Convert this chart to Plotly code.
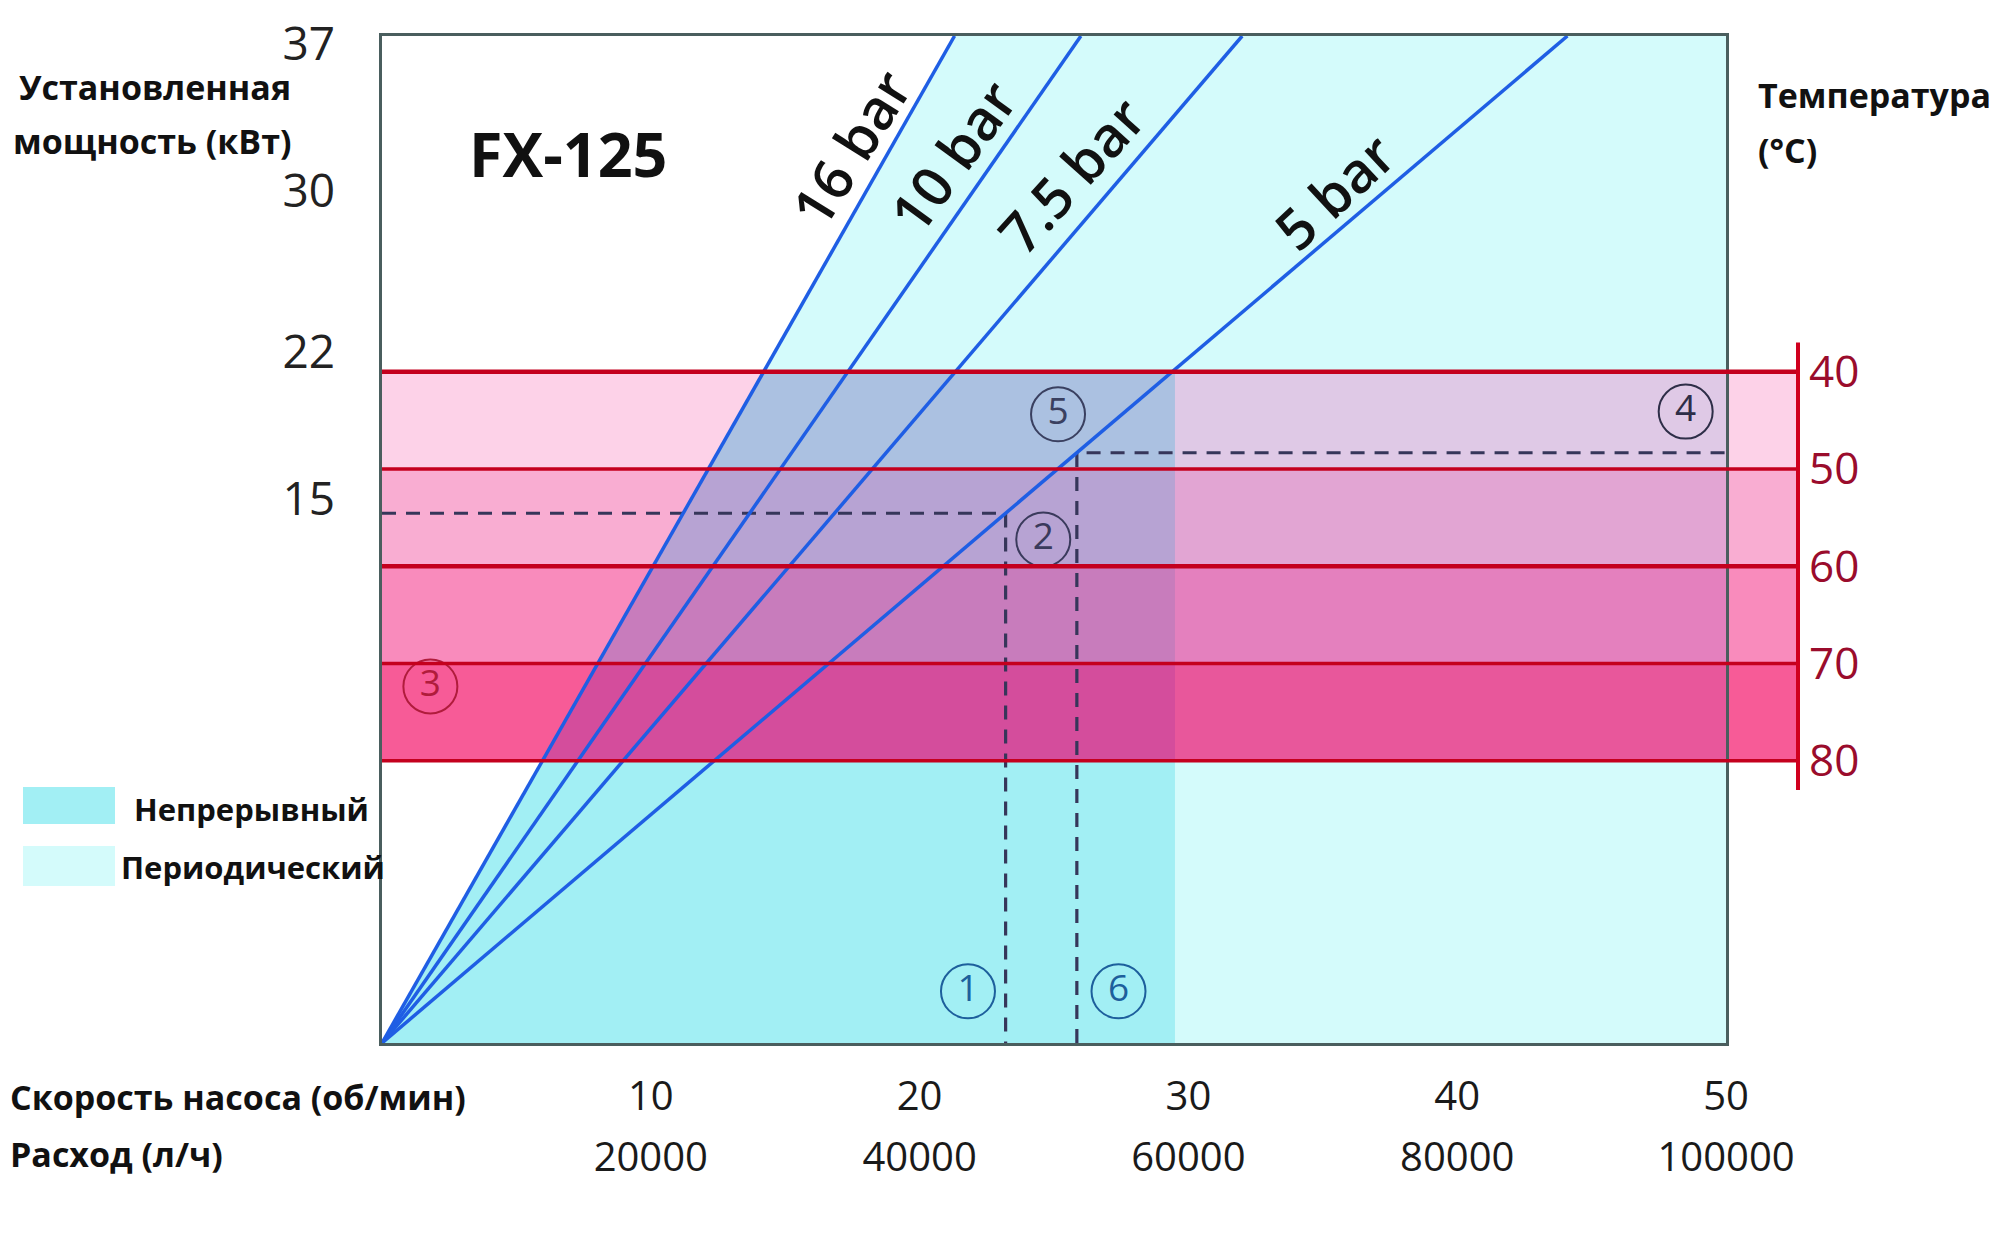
import plotly.graph_objects as go

# ---------------- data ----------------
rpm_ticks = [10, 20, 30, 40, 50]
flow_ticks = [20000, 40000, 60000, 80000, 100000]
power_tick_labels = ["37", "30", "22", "15"]
power_tick_heights = [36.7, 31.3, 25.4, 20.0]      # schematic heights on the chart
power_max = 37
rpm_max = 50
flow_max = 100000

pressure_labels = ["16 bar", "10 bar", "7.5 bar", "5 bar"]
pressure_rpm_at_max = [21.3, 26.0, 32.0, 44.1]      # rpm where each line reaches the top
pressure_label_x = [17.4, 21.2, 25.6, 35.4]
pressure_label_y = [32.9, 32.6, 31.9, 31.3]
pressure_label_angle = [-58, -54, -48, -43]

temp_levels = [40, 50, 60, 70, 80]
temp_axis_span = [37, 83]
temp_at_top, temp_at_bottom = 5.5, 109.0

continuous_rpm_limit = 29.5
example_rpm = [23.2, 25.85]

callout_text = ["1", "2", "3", "4", "5", "6"]
callout_x = [21.8, 24.6, 1.8, 48.5, 25.15, 27.4]
callout_y = [1.9, 18.5, 13.1, 23.2, 23.1, 1.9]
callout_color = ["#1d5f9c", "#3a3a5c", "#b01c3c", "#2e2e48", "#3a4060", "#1d5f9c"]

band_white = ["#fdd2e8", "#f9add2", "#f98bbc", "#f75b97"]
band_periodic = ["#dfc9e6", "#e2a5d3", "#e480be", "#e8579b"]
band_continuous = ["#abc1e1", "#b7a3d3", "#c87cbc", "#d44d9c"]

col_continuous = "#a2eff4"
col_periodic = "#d4fbfb"
col_line = "#1f5ee4"
col_red = "#c4001e"
col_dash = "#36365a"
FONT = "Open Sans"

# ---------------- layout geometry ----------------
W, H = 2000, 1236
ML, MR, MT, MB = 382, 202, 36, 116
PW, PH = W - ML - MR, H - MT - MB
x_dom_end = (1726 - ML) / PW
y_dom_start = (1120 - 1043) / PH


def px(xp):
    return (xp - ML) / PW


def py(yp):
    return (H - MB - yp) / PH


def t2y(t):
    return power_max * (temp_at_bottom - t) / (temp_at_bottom - temp_at_top)


def x16(y):
    return pressure_rpm_at_max[0] * y / power_max


def poly(points, color):
    path = "M " + " L ".join(f"{a},{b}" for a, b in points) + " Z"
    return dict(type="path", path=path, xref="x", yref="y", layer="below",
                fillcolor=color, line=dict(width=0))


def interp_5bar(r):
    return power_max * r / pressure_rpm_at_max[3]


shapes = []
# operating regions
shapes.append(poly([(0, 0), (pressure_rpm_at_max[0], power_max), (rpm_max, power_max), (rpm_max, 0)], col_periodic))
y40 = t2y(temp_levels[0])
shapes.append(poly([(0, 0), (x16(y40), y40), (continuous_rpm_limit, y40), (continuous_rpm_limit, 0)], col_continuous))

# temperature bands
for i in range(len(temp_levels) - 1):
    yt, yb = t2y(temp_levels[i]), t2y(temp_levels[i + 1])
    shapes.append(poly([(0, yb), (0, yt), (rpm_max, yt), (rpm_max, yb)], band_white[i]))
    shapes.append(poly([(x16(yb), yb), (x16(yt), yt), (rpm_max, yt), (rpm_max, yb)], band_periodic[i]))
    shapes.append(poly([(x16(yb), yb), (x16(yt), yt), (continuous_rpm_limit, yt), (continuous_rpm_limit, yb)],
                       band_continuous[i]))
    shapes.append(dict(type="rect", xref="paper", yref="y", x0=x_dom_end, x1=1.0, y0=yb, y1=yt,
                       layer="below", fillcolor=band_white[i], line=dict(width=0)))

# red temperature lines and red axis
for k, t in enumerate(temp_levels):
    shapes.append(dict(type="line", xref="paper", yref="y2", x0=0, x1=1.0, y0=t, y1=t,
                       layer="above", line=dict(color=col_red, width=4.5 if k in (0, 2) else 3.5)))
shapes.append(dict(type="line", xref="paper", yref="y2", x0=1.0, x1=1.0,
                   y0=temp_axis_span[0], y1=temp_axis_span[1], layer="above",
                   line=dict(color="#d0001e", width=4)))

# legend swatches
shapes.append(dict(type="rect", xref="paper", yref="paper", x0=px(23), x1=px(115), y0=py(824), y1=py(787),
                   fillcolor=col_continuous, line=dict(width=0)))
shapes.append(dict(type="rect", xref="paper", yref="paper", x0=px(23), x1=px(115), y0=py(886), y1=py(846),
                   fillcolor=col_periodic, line=dict(width=0)))

fig = go.Figure()

# dashed example lines
r1, r2 = example_rpm
fig.add_trace(go.Scatter(x=[0, r1, r1], y=[interp_5bar(r1), interp_5bar(r1), 0], mode="lines",
                         line=dict(color=col_dash, width=3.2, dash="14px,10px"), hoverinfo="skip", showlegend=False))
fig.add_trace(go.Scatter(x=[r2, r2, rpm_max], y=[0, interp_5bar(r2), interp_5bar(r2)], mode="lines",
                         line=dict(color=col_dash, width=3.2, dash="14px,10px"), hoverinfo="skip", showlegend=False))

# pressure lines
for name, r in zip(pressure_labels, pressure_rpm_at_max):
    fig.add_trace(go.Scatter(x=[0, r], y=[0, power_max], mode="lines", name=name,
                             line=dict(color=col_line, width=3.5), showlegend=False))

# callouts
fig.add_trace(go.Scatter(x=callout_x, y=callout_y, mode="markers+text", text=callout_text,
                         textposition="middle center",
                         textfont=dict(family=FONT, size=37, color=callout_color),
                         marker=dict(symbol="circle-open", size=54, color=callout_color, line=dict(width=2)),
                         hoverinfo="skip", showlegend=False))

# invisible traces to activate secondary axes
fig.add_trace(go.Scatter(x=[0] * len(temp_levels), y=temp_levels, yaxis="y2", mode="markers",
                         marker=dict(opacity=0), hoverinfo="skip", showlegend=False))
fig.add_trace(go.Scatter(x=flow_ticks, y=[0] * len(flow_ticks), xaxis="x2", mode="markers",
                         marker=dict(opacity=0), hoverinfo="skip", showlegend=False))

annotations = []
for lab, x, y, a in zip(pressure_labels, pressure_label_x, pressure_label_y, pressure_label_angle):
    annotations.append(dict(x=x, y=y, xref="x", yref="y", text=lab, showarrow=False, textangle=a,
                            font=dict(family=FONT, size=56, color="#111111", weight=600)))


def txt(s, xp, yp, size=34, anchor="left", color="#111111"):
    annotations.append(dict(x=px(xp), y=py(yp), xref="paper", yref="paper", text=s, showarrow=False,
                            xanchor=anchor, yanchor="middle", font=dict(family=FONT, size=size, color=color)))


txt("<b>Установленная</b>", 17, 87)
txt("<b>мощность (кВт)</b>", 11, 141)
txt("<b>FX-125</b>", 568, 153, size=61, anchor="center")
txt("<b>Температура</b>", 1756, 95)
txt("<b>(°C)</b>", 1756, 150)
txt("<b>Скорость насоса (об/мин)</b>", 8, 1097, size=34)
txt("<b>Расход (л/ч)</b>", 8, 1154, size=34)
txt("<b>Непрерывный</b>", 132, 809, size=31)
txt("<b>Периодический</b>", 119, 867, size=31)

fig.update_layout(
    width=W, height=H,
    margin=dict(l=ML, r=MR, t=MT, b=MB, pad=0),
    paper_bgcolor="white", plot_bgcolor="white",
    font=dict(family=FONT, color="#1a1a1a"),
    showlegend=False,
    shapes=shapes,
    annotations=annotations,
    xaxis=dict(domain=[0, x_dom_end], range=[0, rpm_max], anchor="y",
               tickvals=rpm_ticks, ticktext=[str(v) for v in rpm_ticks], ticks="",
               ticklabelstandoff=16, tickfont=dict(size=40, color="#1a1a1a"),
               showgrid=False, zeroline=False, showline=True, mirror=True,
               linecolor="#4a5e5e", linewidth=2.5),
    xaxis2=dict(domain=[0, x_dom_end], range=[0, flow_max], overlaying="x", anchor="free", position=0,
                side="bottom", tickvals=flow_ticks, ticktext=[str(v) for v in flow_ticks], ticks="",
                ticklabelstandoff=10, tickfont=dict(size=40, color="#1a1a1a"),
                showgrid=False, zeroline=False, showline=False),
    yaxis=dict(domain=[y_dom_start, 1], range=[0, power_max], anchor="x",
               tickvals=power_tick_heights, ticktext=power_tick_labels, ticks="",
               ticklabelstandoff=35, tickfont=dict(size=46, color="#222222"),
               showgrid=False, zeroline=False, showline=True, mirror=True,
               linecolor="#4a5e5e", linewidth=2.5),
    yaxis2=dict(range=[temp_at_bottom, temp_at_top], overlaying="y", anchor="free", position=1.0,
                side="right", tickvals=temp_levels, ticktext=[str(v) for v in temp_levels], ticks="",
                ticklabelstandoff=10, tickfont=dict(size=44, color="#9a0c2c"),
                showgrid=False, zeroline=False, showline=False),
)

fig.write_html("out.html")
